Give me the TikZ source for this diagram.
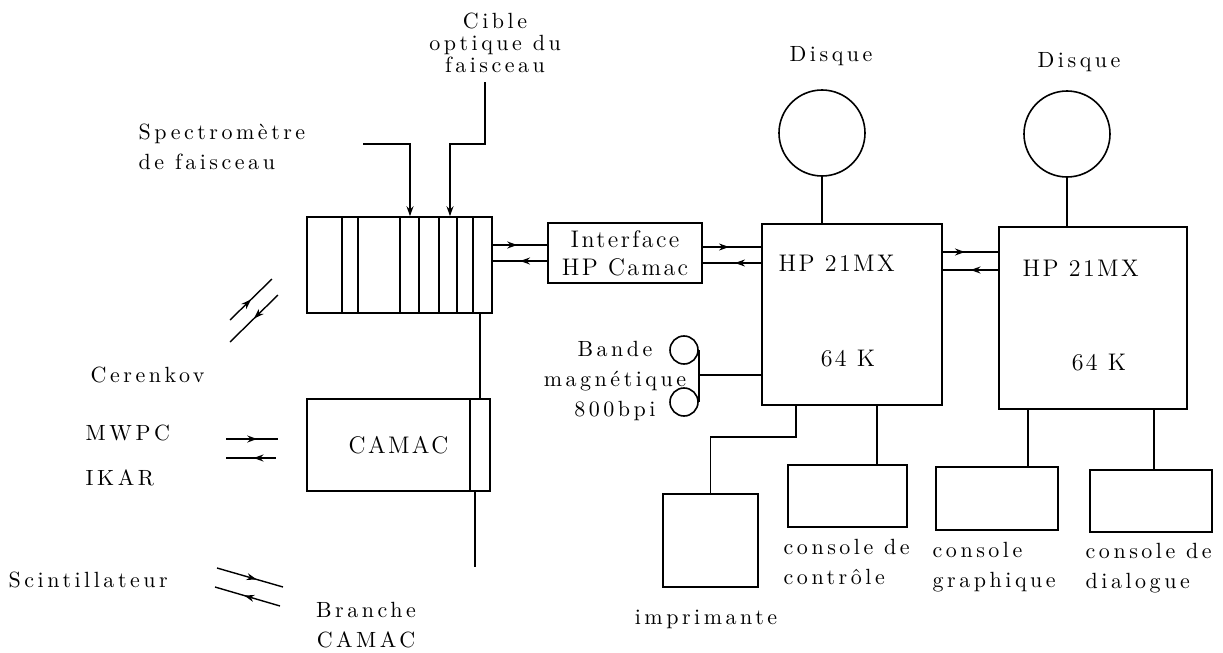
\documentclass[tikz,border=0pt]{standalone}
\usepackage{fontspec}
\setmainfont{Latin Modern Roman}
\usepackage{tikz}
\usetikzlibrary{positioning, arrows.meta, decorations.markings}

\tikzset{
  boite/.style={draw, line width=0.8pt, inner sep=0pt},
  etiq/.style={inner sep=0pt, font=\fontsize{11}{15}\selectfont\addfontfeature{LetterSpace=16}},
  grand/.style={inner sep=0pt, font=\fontsize{12}{14}\selectfont\addfontfeature{LetterSpace=10}},
  pointe/.style={-{Stealth[open,length=5pt,width=3.5pt]}},
  fleche/.style={postaction={decorate, decoration={markings,
      mark=at position #1 with {\arrow{Stealth[open,length=5pt,width=3.5pt]}}}}},
  fleche/.default=0.5,
  retour/.style={postaction={decorate, decoration={markings,
      mark=at position #1 with {\arrowreversed{Stealth[open,length=5pt,width=3.5pt]}}}}},
  retour/.default=0.5
}

\begin{document}
\begin{tikzpicture}[x=0.5pt, y=-0.5pt, line width=0.7pt]
        \useasboundingbox (0,0) rectangle (1223,653);

        \node[boite, minimum width=92.5pt, minimum height=48pt] (chassis) at (399.5,265) {};
        \foreach \xi in {342,358,400,419,439,457,473}
            \draw (\xi,0 |- chassis.north) -- (\xi,0 |- chassis.south);
        \node[boite, grand, align=center, minimum width=77pt, minimum height=30pt] (interface) at (625,253) {Interface\\HP Camac};
        \node[boite, minimum width=90pt, minimum height=90.5pt] (hpa) at (852,314.5) {};
        \node[boite, minimum width=94pt, minimum height=91pt] (hpb) at (1093,318) {};
        \node[boite, grand, minimum width=91.5pt, minimum height=46pt] (camac) at (398.5,445) {CAMAC};
        \draw (470,0 |- camac.north) -- (470,0 |- camac.south);

        \node[boite, circle, minimum size=43pt] (disqa) at (822,133) {};
        \node[boite, circle, minimum size=43pt] (disqb) at (1067,134) {};
        \node[boite, circle, minimum size=14pt] (bobina) at (684,350) {};
        \node[boite, circle, minimum size=14pt] (bobinb) at (684,402) {};

        \node[boite, minimum width=47.5pt, minimum height=46.5pt] (impr) at (710.5,540.5) {};
        \node[boite, minimum width=59.5pt, minimum height=31pt] (ctrl) at (847.5,496) {};
        \node[boite, minimum width=61pt, minimum height=31.5pt] (graph) at (997,498.5) {};
        \node[boite, minimum width=61pt, minimum height=31pt] (dial) at (1151,501) {};

        \node[grand, anchor=west] (hpa1) at (778,263) {HP 21MX};
        \node[grand] (hpa2) at (848,359) {64 K};
        \node[grand, anchor=west] (hpb1) at (1022,268) {HP 21MX};
        \node[grand] (hpb2) at (1099,363) {64 K};

        \node[etiq, align=center, font=\fontsize{11}{11}\selectfont\addfontfeature{LetterSpace=16}] (lcible) at (495,43) {Cible\\optique du\\faisceau};
        \node[etiq, align=left, anchor=west] (lspec) at (138,147) {Spectromètre\\de faisceau};
        \node[etiq] (ldisqa) at (831,56) {Disque};
        \node[etiq] (ldisqb) at (1079,62) {Disque};
        \node[etiq, align=center] (lbande) at (615,381) {Bande\\magnétique\\800bpi};
        \node[etiq, anchor=west] (lcer) at (90,375) {Cerenkov};
        \node[etiq, anchor=west] (lmwpc) at (85,433) {MWPC};
        \node[etiq, anchor=west] (likar) at (85,478) {IKAR};
        \node[etiq, anchor=west] (lscint) at (8,580) {Scintillateur};
        \node[etiq, align=center] (lbranche) at (366,625) {Branche\\CAMAC};
        \node[etiq] (limpr) at (706,619) {imprimante};
        \node[etiq, align=left, anchor=west] (lctrl) at (783,562) {console de\\contrôle};
        \node[etiq, align=left, anchor=west] (lgraph) at (932,567) {console\\graphique};
        \node[etiq, align=left, anchor=west] (ldial) at (1085,568) {console de\\dialogue};

        \coordinate (spec) at (363,144);
        \coordinate (cible) at (485,82);
        \draw[pointe] (spec) -| (410,0 |- chassis.north);
        \draw[pointe] (cible) |- (450,144) -- (450,0 |- chassis.north);

        \coordinate (ci1) at (548,245);
        \coordinate (ci2) at (548,261);
        \coordinate (ih1) at (702,247);
        \coordinate (ih2) at (702,263);
        \coordinate (hh1) at (942,252);
        \coordinate (hh2) at (942,270);
        \draw[fleche=0.45] (chassis.east |- ci1) -- (interface.west |- ci1);
        \draw[retour=0.5] (chassis.east |- ci2) -- (interface.west |- ci2);
        \draw[fleche=0.45] (interface.east |- ih1) -- (hpa.west |- ih1);
        \draw[retour=0.55] (interface.east |- ih2) -- (hpa.west |- ih2);
        \draw[fleche=0.4] (hpa.east |- hh1) -- (hpb.west |- hh1);
        \draw[retour=0.5] (hpa.east |- hh2) -- (hpb.west |- hh2);

        \draw (disqa.south) -- (disqa.south |- hpa.north);
        \draw (disqb.south) -- (disqb.south |- hpb.north);
        \draw (bobina.east) -- (bobinb.east);
        \coordinate (bande) at (698,375);
        \draw (bande) -- (bande -| hpa.west);
        \coordinate (coude) at (796,437);
        \draw (coude |- hpa.south) -- (coude) -| (impr.north);
        \draw (877,0 |- hpa.south) -- (877,0 |- ctrl.north);
        \draw (1028,0 |- hpb.south) -- (1028,0 |- graph.north);
        \draw (1154,0 |- hpb.south) -- (1154,0 |- dial.north);

        \draw (480,0 |- chassis.south) -- (480,0 |- camac.north);
        \coordinate (branche) at (475,567);
        \draw (branche |- camac.south) -- (branche);

        \coordinate (cera) at (230,320);
        \coordinate (cerb) at (272,279);
        \coordinate (cerc) at (230,342);
        \coordinate (cerd) at (278,295);
        \draw[fleche] (cera) -- (cerb);
        \draw[retour] (cerc) -- (cerd);
        \coordinate (mwa) at (226,439);
        \coordinate (mwb) at (278,439);
        \coordinate (mwc) at (226,458);
        \coordinate (mwd) at (276,458);
        \draw[fleche=0.6] (mwa) -- (mwb);
        \draw[retour=0.55] (mwc) -- (mwd);
        \coordinate (sca) at (217,568);
        \coordinate (scb) at (283,587);
        \coordinate (scc) at (215,587);
        \coordinate (scd) at (280,606);
        \draw[fleche=0.6] (sca) -- (scb);
        \draw[retour=0.45] (scc) -- (scd);
\end{tikzpicture}
\end{document}
